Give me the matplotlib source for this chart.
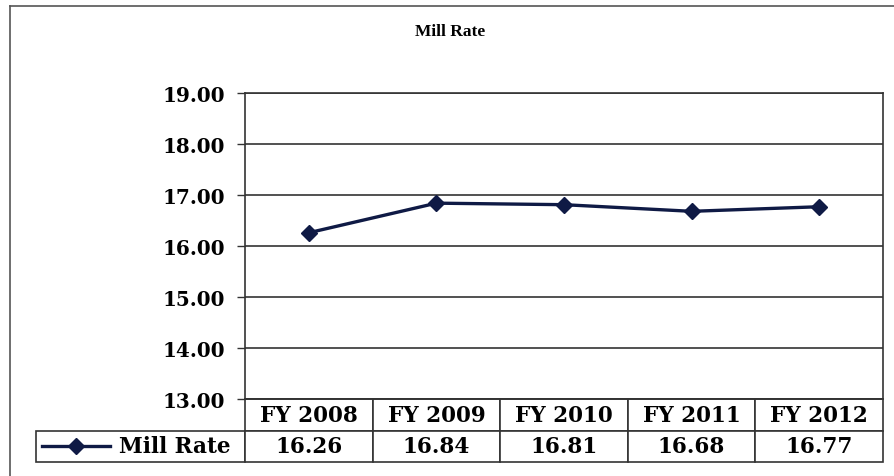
import matplotlib.pyplot as plt
from matplotlib.lines import Line2D
from matplotlib.ticker import FormatStrFormatter

# Data
years = ['FY 2008', 'FY 2009', 'FY 2010', 'FY 2011', 'FY 2012']
mill_rate = [16.26, 16.84, 16.81, 16.68, 16.77]
series_name = 'Mill Rate'

navy = '#0f1a45'
serif = 'DejaVu Serif'

fig = plt.figure(figsize=(8.94, 4.77), dpi=100)
ax = fig.add_axes([245 / 894, 1 - 400 / 477, 638 / 894, 306 / 477])

x = list(range(len(years)))
ax.plot(x, mill_rate, color=navy, linewidth=2.4, marker='D', markersize=8,
        markerfacecolor=navy, markeredgecolor=navy, zorder=3)

ax.set_xlim(-0.5, len(years) - 0.5)
ax.set_ylim(13, 19)
ax.set_yticks([13, 14, 15, 16, 17, 18, 19])
ax.yaxis.set_major_formatter(FormatStrFormatter('%.2f'))
ax.set_xticks([])
ax.grid(axis='y', color='#333333', linewidth=1.2)
ax.tick_params(axis='y', direction='out', length=6, width=1, color='#333333', pad=8)
for lbl in ax.get_yticklabels():
    lbl.set_fontfamily(serif)
    lbl.set_fontweight('bold')
    lbl.set_fontsize(14.4)
for sp in ax.spines.values():
    sp.set_color('#333333')
    sp.set_linewidth(1.2)

# Data table under the plot (first column holds the series label)
label_w = 209 / 638
tbl = ax.table(cellText=[[series_name] + ['%.2f' % v for v in mill_rate]],
               colLabels=[''] + years,
               colWidths=[label_w] + [0.2] * len(years),
               cellLoc='center', bbox=[-label_w, -63 / 306, 1 + label_w, 63 / 306])
tbl.auto_set_font_size(False)
for (r, c), cell in tbl.get_celld().items():
    cell.set_edgecolor('#333333')
    cell.set_linewidth(1.2)
    t = cell.get_text()
    t.set_fontfamily(serif)
    t.set_fontweight('bold')
    t.set_fontsize(15.5)
    if r == 0 and c == 0:
        cell.set_edgecolor('none')
    if r == 1 and c == 0:
        t.set_ha('right')
        cell.PAD = 14 / 209

# legend key inside the row label cell
key_y = 1 - 447 / 477
fig.add_artist(Line2D([42 / 894, 110 / 894], [key_y, key_y], color=navy, linewidth=2.4))
fig.add_artist(Line2D([76 / 894], [key_y], color=navy, marker='D', markersize=8,
                      markerfacecolor=navy, markeredgecolor=navy))

fig.text(450 / 894, 1 - 32 / 477, 'Mill Rate', ha='center', va='center',
         fontfamily='Liberation Serif', fontweight='bold', fontsize=12.5)

# outer chart border (left and top edges visible)
fig.add_artist(Line2D([10 / 894, 10 / 894], [0, 1 - 7 / 477], color='#555555', linewidth=1.2))
fig.add_artist(Line2D([10 / 894, 1], [1 - 7 / 477, 1 - 7 / 477], color='#555555', linewidth=1.2))

fig.savefig('out.png', dpi=100)
